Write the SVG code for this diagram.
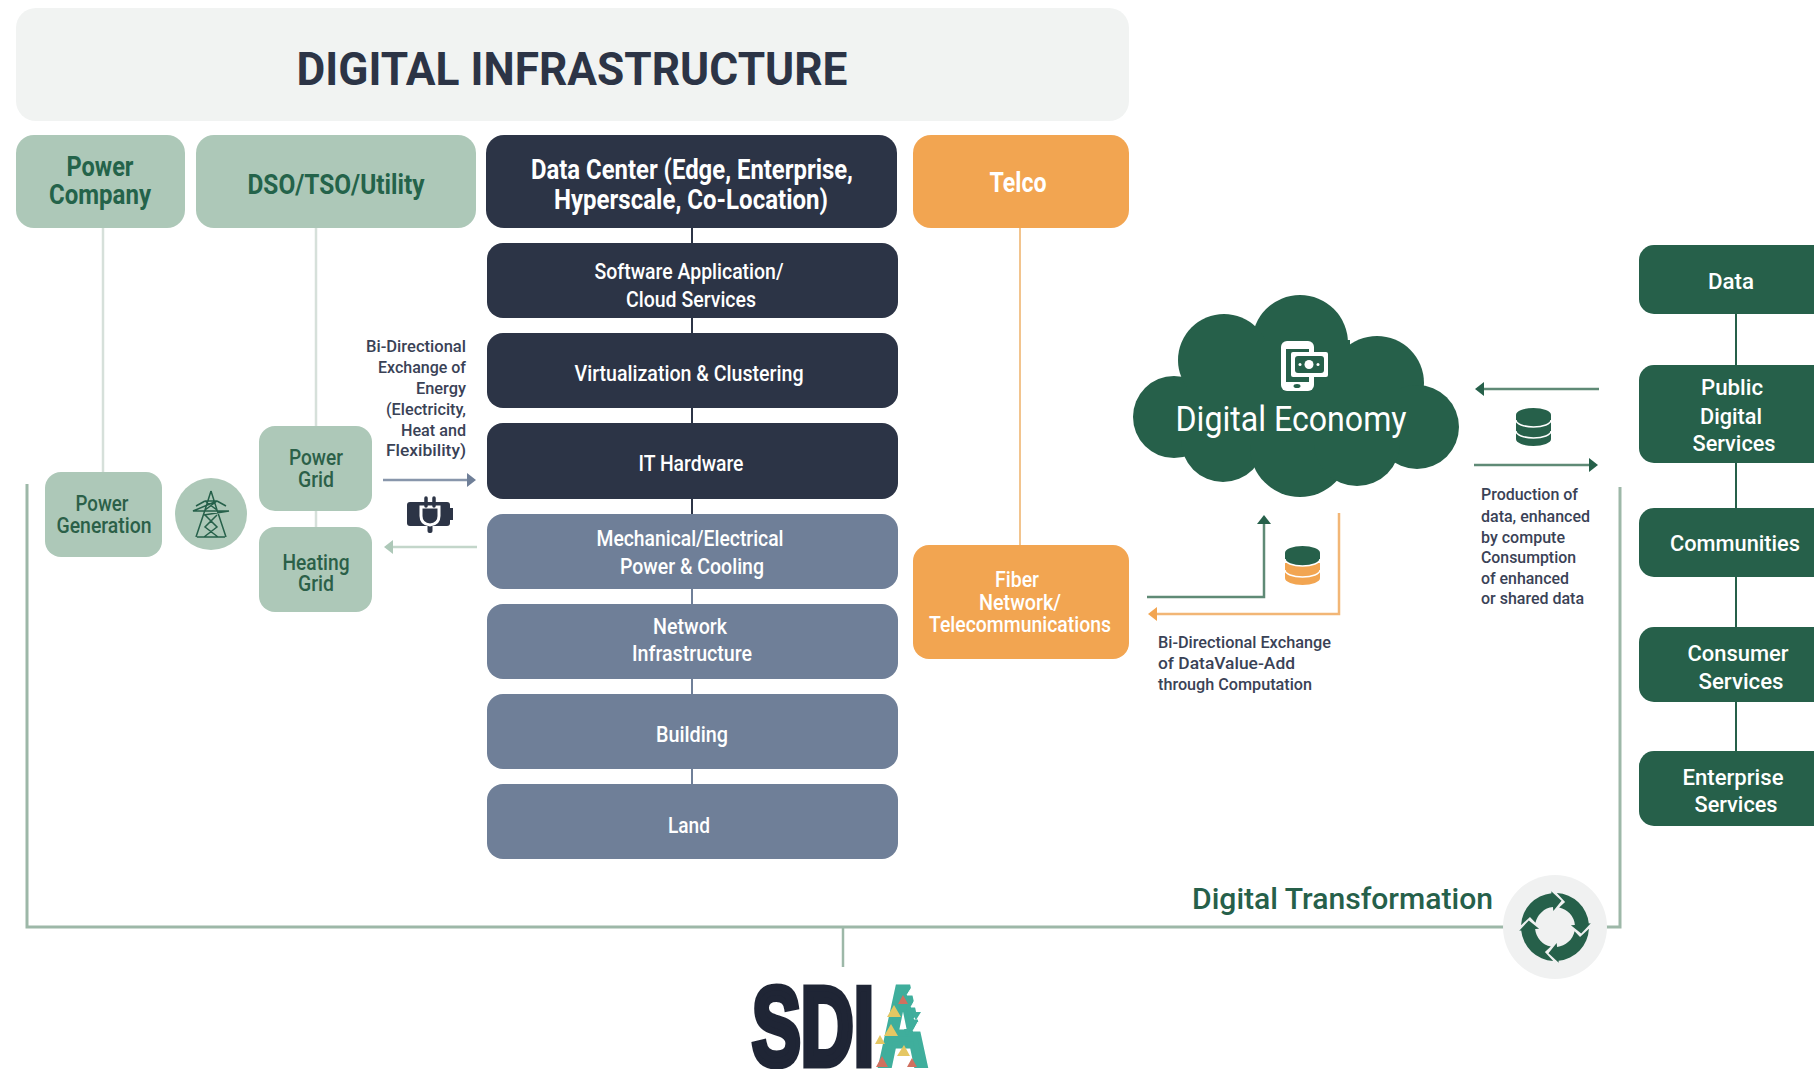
<svg xmlns="http://www.w3.org/2000/svg" xmlns:xlink="http://www.w3.org/1999/xlink" width="1814" height="1069" viewBox="0 0 1814 1069">
<style>
text{font-family:Roboto,"Liberation Sans",sans-serif;text-anchor:middle}
.h{font-weight:700;font-size:27px}
.w{fill:#fff;font-size:22px;font-weight:500}
.g{fill:#2b6048;font-size:22px;font-weight:500}
.gb{fill:#24634a;font-size:28px;font-weight:700}
.n{fill:#3a4256;font-size:17px;font-weight:500}
.l{text-anchor:start}
.r{text-anchor:end}
.sage{fill:#adc8b8}
.dark{fill:#2c3446}
.slate{fill:#6f7f98}
.orange{fill:#f2a551}
.green{fill:#26604a}
</style>
<defs>
<marker id="aSlate" markerUnits="userSpaceOnUse" markerWidth="12" markerHeight="16" refX="1" refY="8" orient="auto"><path d="M0 1L9 8L0 15Z" fill="#6f7f98"/></marker>
<marker id="aSage" markerUnits="userSpaceOnUse" markerWidth="12" markerHeight="16" refX="1" refY="8" orient="auto"><path d="M0 1L9 8L0 15Z" fill="#adc8b8"/></marker>
<marker id="aGreen" markerUnits="userSpaceOnUse" markerWidth="12" markerHeight="16" refX="1" refY="8" orient="auto"><path d="M0 1L9 8L0 15Z" fill="#26604a"/></marker>
<marker id="aOrange" markerUnits="userSpaceOnUse" markerWidth="12" markerHeight="16" refX="1" refY="8" orient="auto"><path d="M0 1L9 8L0 15Z" fill="#f2a551"/></marker>
<path id="cycleArrow" d="M-33.95-1.78A34 34 0 0 1-3.55-33.81L-3.76-35.8L6.53-26.2L-1.67-15.91L-2.09-19.89A20 20 0 0 0-19.56-4.16L-25.03-10.11Z" fill="#26604a"/>
</defs>

<g id="connectors" fill="none">
<path d="M103 228V472" stroke="#d6e0da" stroke-width="2.5"/>
<path d="M316 228V527" stroke="#d6e0da" stroke-width="2.5"/>
<path d="M692 228V514" stroke="#2c3446" stroke-width="2"/>
<path d="M692 514V784" stroke="#6f7f98" stroke-width="2"/>
<path d="M1020 228V545" stroke="#f2c48e" stroke-width="2"/>
<path d="M1736 314V751" stroke="#26604a" stroke-width="2"/>
<path d="M383 480H468" stroke="#8896ab" stroke-width="2.5" marker-end="url(#aSlate)"/>
<path d="M477 547H392" stroke="#c3d6ca" stroke-width="2.5" marker-end="url(#aSage)"/>
<path d="M1147 597H1264V523" stroke="#5f8a76" stroke-width="2.5" marker-end="url(#aGreen)"/>
<path d="M1339 513V614H1156" stroke="#f2b676" stroke-width="2.5" marker-end="url(#aOrange)"/>
<path d="M1599 389H1483" stroke="#5f8a76" stroke-width="2.5" marker-end="url(#aGreen)"/>
<path d="M1474 465H1590" stroke="#5f8a76" stroke-width="2.5" marker-end="url(#aGreen)"/>
<path d="M27 484V927H1505M1605 927H1620V487" stroke="#9db8a8" stroke-width="3"/>
<path d="M843 927V967" stroke="#9db8a8" stroke-width="2.5"/>
</g>

<g id="title"><rect x="16" y="8" width="1113" height="113" rx="20" fill="#f1f3f2"/>
<text x="572" y="85" font-size="47" font-weight="700" fill="#2c3446" textLength="551" lengthAdjust="spacingAndGlyphs">DIGITAL INFRASTRUCTURE</text></g>

<g id="power-company"><rect x="16" y="135" width="169" height="93" rx="18" class="sage"/>
<text x="100" y="176" class="gb" textLength="67" lengthAdjust="spacingAndGlyphs">Power</text>
<text x="100" y="204" class="gb" textLength="102" lengthAdjust="spacingAndGlyphs">Company</text></g>
<g id="dso"><rect x="196" y="135" width="280" height="93" rx="18" class="sage"/>
<text x="336" y="194" class="gb" textLength="177" lengthAdjust="spacingAndGlyphs">DSO/TSO/Utility</text></g>
<g id="data-center"><rect x="486" y="135" width="411" height="93" rx="18" class="dark"/>
<text x="692" y="179" class="h" fill="#fff" textLength="322" lengthAdjust="spacingAndGlyphs">Data Center (Edge, Enterprise,</text>
<text x="691" y="209" class="h" fill="#fff" textLength="274" lengthAdjust="spacingAndGlyphs">Hyperscale, Co-Location)</text></g>
<g id="telco"><rect x="913" y="135" width="216" height="93" rx="18" class="orange"/>
<text x="1018" y="192" class="h" fill="#fff" textLength="57" lengthAdjust="spacingAndGlyphs">Telco</text></g>

<g id="software"><rect x="487" y="243" width="411" height="75" rx="16" class="dark"/>
<text x="689" y="279" class="w" textLength="189" lengthAdjust="spacingAndGlyphs">Software Application/</text>
<text x="691" y="307" class="w" textLength="130" lengthAdjust="spacingAndGlyphs">Cloud Services</text></g>
<g id="virtualization"><rect x="487" y="333" width="411" height="75" rx="16" class="dark"/>
<text x="689" y="381" class="w" textLength="229" lengthAdjust="spacingAndGlyphs">Virtualization &amp; Clustering</text></g>
<g id="it-hardware"><rect x="487" y="423" width="411" height="76" rx="16" class="dark"/>
<text x="691" y="471" class="w" textLength="105" lengthAdjust="spacingAndGlyphs">IT Hardware</text></g>
<g id="mechanical"><rect x="487" y="514" width="411" height="75" rx="16" class="slate"/>
<text x="690" y="546" class="w" textLength="187" lengthAdjust="spacingAndGlyphs">Mechanical/Electrical</text>
<text x="692" y="574" class="w" textLength="144" lengthAdjust="spacingAndGlyphs">Power &amp; Cooling</text></g>
<g id="network"><rect x="487" y="604" width="411" height="75" rx="16" class="slate"/>
<text x="690" y="634" class="w" textLength="74" lengthAdjust="spacingAndGlyphs">Network</text>
<text x="692" y="661" class="w" textLength="120" lengthAdjust="spacingAndGlyphs">Infrastructure</text></g>
<g id="building"><rect x="487" y="694" width="411" height="75" rx="16" class="slate"/>
<text x="692" y="742" class="w" textLength="72" lengthAdjust="spacingAndGlyphs">Building</text></g>
<g id="land"><rect x="487" y="784" width="411" height="75" rx="16" class="slate"/>
<text x="689" y="833" class="w" textLength="42" lengthAdjust="spacingAndGlyphs">Land</text></g>

<g id="power-generation"><rect x="45" y="472" width="117" height="85" rx="16" class="sage"/>
<text x="102" y="511" class="g" textLength="53" lengthAdjust="spacingAndGlyphs">Power</text>
<text x="104" y="533" class="g" textLength="95" lengthAdjust="spacingAndGlyphs">Generation</text></g>
<g id="tower"><circle cx="211" cy="514" r="36" class="sage"/>
<path d="M211 491L205 510L196 537M211 491L217 510L226 537M197 537H225M205 501H217L193 511H229L204 515M217 515L205 527L218 537M205 515L217 527L204 537M205 501L196 506M217 501L226 506M205 501L217 510M217 501L205 510" fill="none" stroke="#26604a" stroke-width="1.5"/></g>
<g id="power-grid"><rect x="259" y="426" width="113" height="85" rx="16" class="sage"/>
<text x="316" y="465" class="g" textLength="54" lengthAdjust="spacingAndGlyphs">Power</text>
<text x="316" y="487" class="g" textLength="36" lengthAdjust="spacingAndGlyphs">Grid</text></g>
<g id="heating-grid"><rect x="259" y="527" width="113" height="85" rx="16" class="sage"/>
<text x="316" y="570" class="g" textLength="67" lengthAdjust="spacingAndGlyphs">Heating</text>
<text x="316" y="591" class="g" textLength="36" lengthAdjust="spacingAndGlyphs">Grid</text></g>

<g id="energy-label">
<text x="466" y="352" class="n r" textLength="100" lengthAdjust="spacingAndGlyphs">Bi-Directional</text>
<text x="466" y="373" class="n r" textLength="88" lengthAdjust="spacingAndGlyphs">Exchange of</text>
<text x="466" y="394" class="n r" textLength="50" lengthAdjust="spacingAndGlyphs">Energy</text>
<text x="466" y="415" class="n r" textLength="80" lengthAdjust="spacingAndGlyphs">(Electricity,</text>
<text x="466" y="436" class="n r" textLength="65" lengthAdjust="spacingAndGlyphs">Heat and</text>
<text x="466" y="456" class="n r" textLength="80" lengthAdjust="spacingAndGlyphs">Flexibility)</text>
</g>
<g id="plug-icon">
<rect x="407" y="502" width="43" height="24" rx="3" class="dark"/><rect x="450" y="508" width="3" height="12" class="dark"/>
<rect x="427.500" y="522" width="5" height="11" rx="2" class="dark"/>
<path d="M421 507H439V516Q439 524 430 525Q421 524 421 516Z" class="dark" stroke="#fff" stroke-width="3"/>
<path d="M426 498V506M434 498V506" stroke="#2c3446" stroke-width="3.5" stroke-linecap="round"/>
</g>

<g id="fiber"><rect x="913" y="545" width="216" height="114" rx="16" class="orange"/>
<text x="1017" y="587" class="w" textLength="44" lengthAdjust="spacingAndGlyphs">Fiber</text>
<text x="1020" y="610" class="w" textLength="82" lengthAdjust="spacingAndGlyphs">Network/</text>
<text x="1020" y="632" class="w" textLength="182" lengthAdjust="spacingAndGlyphs">Telecommunications</text></g>

<g id="digital-economy">
<g class="green"><circle cx="1300" cy="343" r="48"/><circle cx="1174" cy="417" r="41"/><circle cx="1224" cy="360" r="46"/><circle cx="1377" cy="383" r="47"/><circle cx="1417" cy="427" r="42"/><circle cx="1223" cy="440" r="42"/><circle cx="1300" cy="447" r="50"/><circle cx="1357" cy="443" r="43"/><rect x="1190" y="375" width="210" height="70"/><rect x="1250" y="340" width="100" height="50"/></g>
<rect x="1281" y="341" width="33" height="50" rx="6" fill="#fff"/><rect x="1286" y="349" width="23" height="33" class="green"/><ellipse cx="1297" cy="386" rx="3.5" ry="2" class="green"/>
<rect x="1291" y="352" width="37" height="25" rx="2" fill="#fff"/><rect x="1295" y="356" width="29" height="17" rx="3" class="green"/><circle cx="1309" cy="364.500" r="4.500" fill="#fff"/><circle cx="1300" cy="364.500" r="1.500" fill="#fff"/><circle cx="1318" cy="364.500" r="1.500" fill="#fff"/>
<text x="1291" y="431" font-size="35" fill="#fff" textLength="231" lengthAdjust="spacingAndGlyphs">Digital Economy</text>
</g>

<g id="db-green"><path d="M1516 415A17.500 7 0 0 1 1551 415V439A17.500 7 0 0 1 1516 439Z" class="green"/>
<path d="M1516 420A17.500 7 0 0 0 1551 420M1516 431A17.500 7 0 0 0 1551 431" fill="none" stroke="#fff" stroke-width="1.500"/></g>
<g id="db-mixed"><path d="M1285 563H1320V578A17.500 7 0 0 1 1285 578Z" class="orange"/><path d="M1285 553A17.500 7 0 0 1 1320 553V559A17.500 7 0 0 1 1285 559Z" class="green"/>
<path d="M1285 559A17.500 7 0 0 0 1320 559M1285 570A17.500 7 0 0 0 1320 570" fill="none" stroke="#fff" stroke-width="1.500"/></g>

<g id="data-exchange-label">
<text x="1158" y="648" class="n l" textLength="173" lengthAdjust="spacingAndGlyphs">Bi-Directional Exchange</text>
<text x="1158" y="669" class="n l" textLength="137" lengthAdjust="spacingAndGlyphs">of DataValue-Add</text>
<text x="1158" y="690" class="n l" textLength="154" lengthAdjust="spacingAndGlyphs">through Computation</text>
</g>
<g id="production-label">
<text x="1481" y="500" class="n l" textLength="97" lengthAdjust="spacingAndGlyphs">Production of</text>
<text x="1481" y="522" class="n l" textLength="109" lengthAdjust="spacingAndGlyphs">data, enhanced</text>
<text x="1481" y="543" class="n l" textLength="84" lengthAdjust="spacingAndGlyphs">by compute</text>
<text x="1481" y="563" class="n l" textLength="95" lengthAdjust="spacingAndGlyphs">Consumption</text>
<text x="1481" y="584" class="n l" textLength="88" lengthAdjust="spacingAndGlyphs">of enhanced</text>
<text x="1481" y="604" class="n l" textLength="103" lengthAdjust="spacingAndGlyphs">or shared data</text>
</g>

<g id="data"><rect x="1639" y="245" width="190" height="69" rx="15" class="green"/>
<text x="1731" y="289" class="w" textLength="46" lengthAdjust="spacingAndGlyphs">Data</text></g>
<g id="public-services"><rect x="1639" y="365" width="190" height="98" rx="15" class="green"/>
<text x="1732" y="395" class="w" textLength="62" lengthAdjust="spacingAndGlyphs">Public</text>
<text x="1731" y="424" class="w" textLength="62" lengthAdjust="spacingAndGlyphs">Digital</text>
<text x="1734" y="451" class="w" textLength="83" lengthAdjust="spacingAndGlyphs">Services</text></g>
<g id="communities"><rect x="1639" y="508" width="190" height="69" rx="15" class="green"/>
<text x="1735" y="551" class="w" textLength="130" lengthAdjust="spacingAndGlyphs">Communities</text></g>
<g id="consumer"><rect x="1639" y="627" width="190" height="75" rx="15" class="green"/>
<text x="1738" y="661" class="w" textLength="101" lengthAdjust="spacingAndGlyphs">Consumer</text>
<text x="1741" y="689" class="w" textLength="85" lengthAdjust="spacingAndGlyphs">Services</text></g>
<g id="enterprise"><rect x="1639" y="751" width="190" height="75" rx="15" class="green"/>
<text x="1733" y="785" class="w" textLength="101" lengthAdjust="spacingAndGlyphs">Enterprise</text>
<text x="1736" y="812" class="w" textLength="83" lengthAdjust="spacingAndGlyphs">Services</text></g>

<g id="digital-transformation">
<text x="1192" y="909" class="l" font-size="30" font-weight="500" fill="#26604a" textLength="301" lengthAdjust="spacingAndGlyphs">Digital Transformation</text>
<circle cx="1555" cy="927" r="52" fill="#f0f1f1"/>
<g transform="translate(1555 927)"><use xlink:href="#cycleArrow"/><use xlink:href="#cycleArrow" transform="rotate(90)"/><use xlink:href="#cycleArrow" transform="rotate(180)"/><use xlink:href="#cycleArrow" transform="rotate(270)"/></g>
</g>

<g id="sdia-logo">
<text x="752" y="1065" class="l" font-size="112" font-weight="700" fill="#1f2535" stroke="#1f2535" stroke-width="7" style="font-family:'Liberation Sans',sans-serif" textLength="122" lengthAdjust="spacingAndGlyphs">SDI</text>
<text x="879" y="1065" class="l" font-size="112" font-weight="700" fill="#3fae9c" stroke="#3fae9c" stroke-width="7" style="font-family:'Liberation Sans',sans-serif" textLength="48" lengthAdjust="spacingAndGlyphs">A</text>
<path d="M894 1005l7 12h-14zM891 1024l7 12h-14zM904 1045l6 11h-13zM880 1035l5 9h-10z" fill="#e5c763"/>
<path d="M882 1056l6 11h-12zM912 1058l5 9h-10zM903 995l5 9h-10z" fill="#d0705f"/>
<path d="M912 987l5 8h-10zM922 987l4 7h-8zM930 990l4 7h-8zM916 998l5 9h-10zM927 1000l5 9h-10zM919 1010l5 9h-10zM928 1008l-5 9-4-9zM918 1022l5 9h-10z" fill="#fff" stroke="#fff"/>
<path d="M911 1012h10l-5 8zM904 1029l6 0 -3 8z" fill="#3fae9c"/>
</g>
</svg>
